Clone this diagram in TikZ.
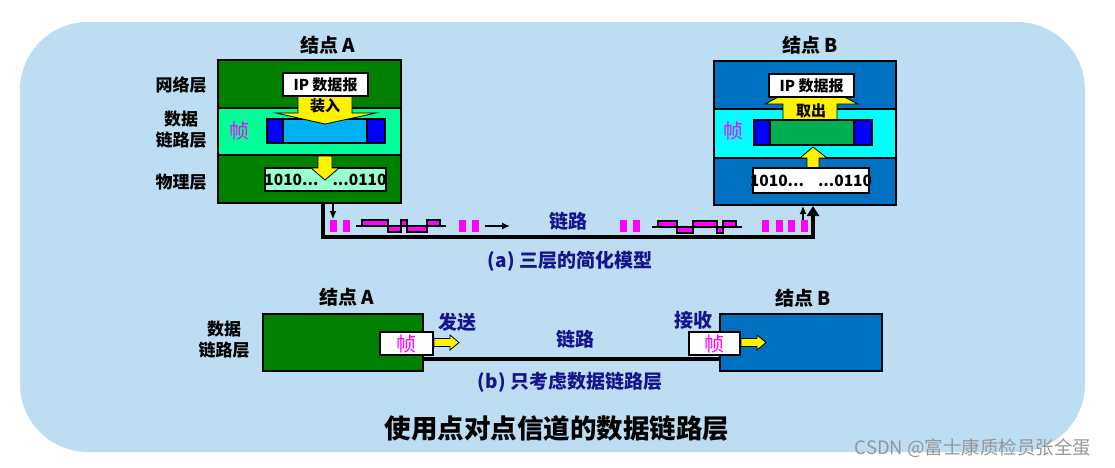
\documentclass[tikz,border=0pt]{standalone}
\usepackage{fontspec}
\setmainfont{Noto Sans CJK SC}
\usetikzlibrary{arrows.meta}
\definecolor{bg}{RGB}{189,221,242}
\definecolor{ngreen}{RGB}{0,128,0}
\definecolor{mint}{RGB}{0,255,153}
\definecolor{fcyan}{RGB}{0,176,240}
\definecolor{fblue}{RGB}{0,0,255}
\definecolor{aqua}{RGB}{153,255,204}
\definecolor{nblue}{RGB}{0,112,192}
\definecolor{bcyan}{RGB}{0,255,255}
\definecolor{fgreen}{RGB}{0,176,80}
\definecolor{navy}{RGB}{20,20,140}
\definecolor{mag}{RGB}{255,0,255}
\definecolor{wm}{RGB}{150,150,150}
\tikzset{
  box/.style={draw=black, line width=2pt, inner sep=0pt, anchor=north west},
  lbl/.style={inner sep=0pt, font=\bfseries\fontsize{17}{22}\selectfont, align=center},
  nlbl/.style={inner sep=0pt, text=navy, font=\bfseries\fontsize{19}{22}\selectfont},
  hd/.style={inner sep=0pt, font=\bfseries\fontsize{19}{22}\selectfont},
  zhen/.style={inner sep=0pt, text=mag, font=\fontsize{20}{22}\selectfont},
  yarrow/.style={fill=yellow, draw=black, line width=0.8pt, line join=miter},
  pulse/.style={fill=mag},
  wave/.style={fill=mag, draw=black, line width=1.2pt},
  link/.style={line width=4pt, line cap=butt},
  bits/.style={font=\bfseries\fontsize{15.5}{18}\selectfont},
  thin/.style={line width=1.4pt, -{Latex[length=8pt,width=7pt]}},
}
\begin{document}
\begin{tikzpicture}[x=1pt,y=-1pt]
\useasboundingbox (0,0) rectangle (1115,467);
\fill[bg, rounded corners=68pt] (20,22) rectangle (1085,452);

%% ---------------- (a) node A
\node[box, fill=ngreen, minimum width=183pt, minimum height=143pt] (Aout) at (217,59) {};
\node[box, fill=ngreen, minimum width=183pt, minimum height=48pt] (Anet) at (217,59) {};
\node[box, fill=mint, minimum width=183pt, minimum height=47pt] (Alink) at (217,107) {};
\node[box, fill=ngreen, minimum width=183pt, minimum height=48pt] (Aphy) at (217,154) {};
\node[box, fill=none, minimum width=183pt, minimum height=143pt] (Aout2) at (217,59) {};
% frame
\node[box, fill=fcyan, minimum width=118pt, minimum height=24pt] (Afr) at (266,118) {};
\node[box, fill=fblue, minimum width=16pt, minimum height=24pt] (AfL) at (266,118) {};
\node[box, fill=fblue, minimum width=18pt, minimum height=24pt] (AfR) at (366,118) {};
% arrow 装入
\draw[yarrow] (298,92) -- (352,92) -- (352,113) -- (376,113) -- (325,124) -- (276,113) -- (298,113) -- cycle;
\node[box, fill=white, minimum width=85pt, minimum height=23pt, font=\bfseries\fontsize{15}{18}\selectfont] (AIP) at (282,72) {IP 数据报};
\node[inner sep=0pt, font=\bfseries\fontsize{15}{18}\selectfont] (Azr) at (325,106) {装入};
\node[zhen] (Azhen) at (239,131) {帧};
% bits
\node[box, fill=aqua, minimum width=121pt, minimum height=23pt] (Abits) at (264,167) {};
\draw[yarrow] (318,156) -- (332,156) -- (332,168) -- (339,168) -- (325,180) -- (311,168) -- (318,168) -- cycle;
\node[bits, inner sep=0pt] (Abt) at (Abits.center) {1010...\hspace{14pt}...0110};
% labels
\node[hd] (Atitle) at (328,45) {结点 A};
\node[lbl] (L1) at (181,85) {网络层};
\node[lbl] (L2) at (181,130) {数据\\[-1pt]链路层};
\node[lbl] (L3) at (181,182) {物理层};

%% ---------------- (a) node B
\node[box, fill=nblue, minimum width=182pt, minimum height=48pt] (Bnet) at (713,60) {};
\node[box, fill=bcyan, minimum width=182pt, minimum height=49pt] (Blink) at (713,108) {};
\node[box, fill=nblue, minimum width=182pt, minimum height=47pt] (Bphy) at (713,157) {};
\node[box, fill=none, minimum width=182pt, minimum height=144pt] (Bout) at (713,60) {};
% arrow 取出
\draw[yarrow] (783,121) -- (837,121) -- (837,104) -- (858,104) -- (811,80) -- (765,104) -- (783,104) -- cycle;
\node[box, fill=white, minimum width=85pt, minimum height=23pt, font=\bfseries\fontsize{15}{18}\selectfont] (BIP) at (768,73) {IP 数据报};
\node[inner sep=0pt, font=\bfseries\fontsize{15}{18}\selectfont] (Bqc) at (811,111) {取出};
% frame
\node[box, fill=fgreen, minimum width=118pt, minimum height=25pt] (Bfr) at (753,119) {};
\node[box, fill=fblue, minimum width=16pt, minimum height=25pt] (BfL) at (753,119) {};
\node[box, fill=fblue, minimum width=18pt, minimum height=25pt] (BfR) at (853,119) {};
\node[zhen] (Bzhen) at (733,131) {帧};
% bits
\draw[yarrow] (807,168) -- (819,168) -- (819,158) -- (827,158) -- (813,147) -- (800,158) -- (807,158) -- cycle;
\node[box, fill=white, minimum width=116pt, minimum height=25pt] (Bbits) at (752,167) {};
\node[bits, inner sep=0pt] (Bbt) at (Bbits.center) {1010...\hspace{14pt}...0110};
\node[hd] (Btitle) at (810,45) {结点 B};

%% ---------------- (a) link
\coordinate (c1) at (323,237);
\coordinate (c2) at (813,237);
\draw[link, -{Triangle[length=10pt,width=12pt]}] (Aout.south -| c1) -- (c1) -- (c2) -- (Bout.south -| c2);
\coordinate (t1) at (333,219);
\draw[thin] (Aout.south -| t1) -- (t1);
\coordinate (t2) at (803,221);
\draw[thin] (t2) -- (Bout.south -| t2);
% pulses
\foreach \x in {330,343,459,472,620,633,762,776,788,801}
  \fill[pulse] (\x,220) rectangle ++(7,12);
% waveform 1
\draw[wave] (362,220) rectangle (388,226);
\draw[wave] (388,226) rectangle (401,232);
\draw[wave] (401,220) rectangle (407,226);
\draw[wave] (407,226) rectangle (427,232);
\draw[wave] (427,220) rectangle (440,226);
\draw[line width=1.2pt] (356,226) -- (446,226);
% waveform 2
\draw[wave] (658,221) rectangle (677,227);
\draw[wave] (677,227) rectangle (693,233);
\draw[wave] (693,221) rectangle (717,227);
\draw[wave] (717,227) rectangle (723,233);
\draw[wave] (723,221) rectangle (736,227);
\draw[line width=1.2pt] (652,227) -- (742,227);
\coordinate (r1) at (485,226);
\coordinate (r2) at (510,226);
\draw[line width=1.4pt, -{Latex[length=8pt,width=7pt]}] (r1) -- (r2);
\node[nlbl] (linka) at (568,221) {链路};
\node[nlbl] (capa) at (570,261) {(a) 三层的简化模型};

%% ---------------- (b)
\node[box, fill=ngreen, minimum width=160pt, minimum height=57pt] (bA) at (262,313) {};
\node[box, fill=nblue, minimum width=162pt, minimum height=57pt] (bB) at (719,313) {};
\coordinate (bl) at (0,359);
\draw[link] (bA.east |- bl) -- (bB.west |- bl);
\node[box, fill=white, minimum width=53pt, minimum height=23pt] (bfA) at (379,331) {};
\node[zhen] at (bfA.center) (bzA) {帧};
\node[box, fill=white, minimum width=51pt, minimum height=23pt] (bfB) at (688,331) {};
\node[zhen] at (bfB.center) (bzB) {帧};
\draw[yarrow] (bfA.east |- 0,338.5) -- (450,338.5) -- (450,335) -- (459,342.5) -- (450,350) -- (450,346.5) -- (bfA.east |- 0,346.5) -- cycle;
\draw[yarrow] (bfB.east |- 0,338.5) -- (757,338.5) -- (757,335) -- (766,342.5) -- (757,350) -- (757,346.5) -- (bfB.east |- 0,346.5) -- cycle;
\node[hd] (bAt) at (347,297) {结点 A};
\node[hd] (bBt) at (803,298) {结点 B};
\node[lbl] (bL) at (224,340) {数据\\[-1pt]链路层};
\node[nlbl] (send) at (457,322) {发送};
\node[nlbl] (recv) at (693,320) {接收};
\node[nlbl] (linkb) at (575,339) {链路};
\node[nlbl] (capb) at (570,382) {(b) 只考虑数据链路层};

%% title and watermark
\node[inner sep=0pt, font=\bfseries\fontsize{26.5}{30}\selectfont] (title) at (557,428) {使用点对点信道的数据链路层};
\node[inner sep=0pt, text=wm, font=\fontsize{18.5}{20}\selectfont] (wmk) at (973,448) {CSDN @富士康质检员张全蛋};
\end{tikzpicture}
\end{document}
